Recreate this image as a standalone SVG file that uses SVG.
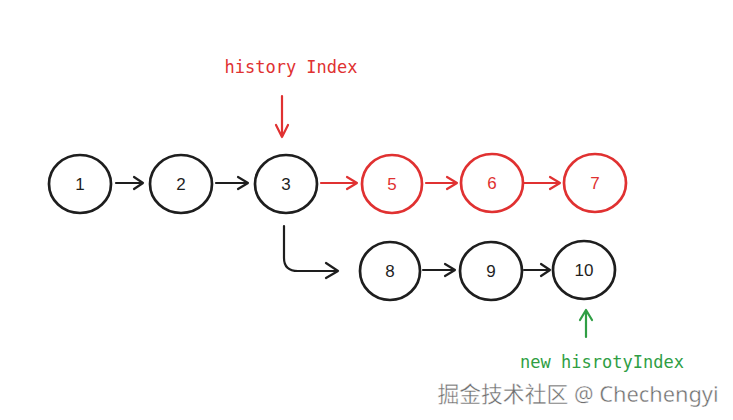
<svg xmlns="http://www.w3.org/2000/svg" width="733" height="420" viewBox="0 0 733 420">
<defs>
<style>
.n{fill:none;stroke:#1e1e1e;stroke-width:2.7}
.r{fill:none;stroke:#e03131;stroke-width:2.7}
.t{font-family:"Liberation Sans","DejaVu Sans",sans-serif;font-size:17px;text-anchor:middle;dominant-baseline:central;fill:#1e1e1e}
.tr{fill:#e03131}
.c{fill:none;stroke:#1e1e1e;stroke-width:2.2;stroke-linecap:round;stroke-linejoin:round}
.cr{stroke:#e03131}
.cg{stroke:#2f9e44}
.lbl{font-family:"DejaVu Sans Mono","Liberation Mono",monospace;font-size:17px;text-anchor:middle}
</style>
</defs>
<rect width="733" height="420" fill="#ffffff"/>
<g id="node1"><ellipse class="n" cx="80" cy="184" rx="31" ry="29"/><text class="t" x="80" y="184">1</text></g>
<g id="node2"><ellipse class="n" cx="181" cy="184" rx="31" ry="29"/><text class="t" x="181" y="184">2</text></g>
<g id="node3"><ellipse class="n" cx="286" cy="184" rx="31" ry="29"/><text class="t" x="286" y="184">3</text></g>
<g id="node5"><ellipse class="r" cx="392" cy="184" rx="30" ry="29"/><text class="t tr" x="392" y="184">5</text></g>
<g id="node6"><ellipse class="r" cx="492" cy="183" rx="31" ry="29"/><text class="t tr" x="492" y="183">6</text></g>
<g id="node7"><ellipse class="r" cx="595" cy="183" rx="31" ry="29"/><text class="t tr" x="595" y="183">7</text></g>
<g id="node8"><ellipse class="n" cx="390" cy="271" rx="30" ry="29"/><text class="t" x="390" y="271">8</text></g>
<g id="node9"><ellipse class="n" cx="491" cy="271" rx="31" ry="29"/><text class="t" x="491" y="271">9</text></g>
<g id="node10"><ellipse class="n" cx="584" cy="270" rx="31" ry="29"/><text class="t" x="584" y="270">10</text></g>
<g id="connectors">
<path class="c" d="M116 183H143M134 177L143 183L134 189"/>
<path class="c" d="M216 183H248M238 177L248 183L238 189"/>
<path class="c cr" d="M321 183H357M347 177L357 183L347 189"/>
<path class="c cr" d="M426 183H457M447 177L457 183L447 189"/>
<path class="c cr" d="M524 183H560M550 177L560 183L550 189"/>
<path class="c" d="M284 226V258Q284 271 298 271H338M326 263L338 271L326 278"/>
<path class="c" d="M423 270H455M445 264L455 270L445 276"/>
<path class="c" d="M524 270H550M541 264L550 270L541 276"/>
<path class="c cr" d="M282 96V137M276 125L282 137L288 125"/>
<path class="c cg" d="M586 337V310M580 320L586 310L592 320"/>
</g>
<g id="labels">
<text class="lbl" x="291" y="73" fill="#e03131">history Index</text>
<text class="lbl" x="602" y="368" fill="#2f9e44">new hisrotyIndex</text>
</g>
<text x="578" y="402" font-family="'Noto Sans','Noto Sans CJK SC',sans-serif" font-size="21.8" text-anchor="middle" fill="#6e6e6e" stroke="#ffffff" stroke-width="0.4">掘金技术社区 @ Chechengyi</text>
</svg>
